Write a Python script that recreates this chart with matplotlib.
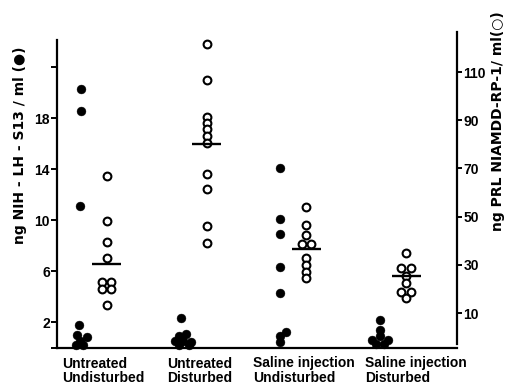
import matplotlib
matplotlib.use("Agg")
import matplotlib.pyplot as plt

# ---- data ----
groups = ["Untreated\nUndisturbed", "Untreated\nDisturbed",
          "Saline injection\nUndisturbed", "Saline injection\nDisturbed"]

# LH, ng NIH-LH-S13/ml (filled circles, left axis)
lh_g1 = [20.3, 18.6, 11.1, 1.77, 0.82, 0.98, 0.5, 0.2, 0.2]
lh_g2 = [2.3, 0.9, 1.06, 0.51, 0.51, 0.43, 0.2, 0.2]
lh_g3 = [14.1, 10.1, 8.9, 6.3, 4.3, 1.2, 0.9, 0.43]
lh_g4 = [2.16, 1.37, 0.9, 0.6, 0.6, 0.3, 0.3]

# PRL, ng NIAMDD-RP-1/ml (open circles, right axis)
prl_g1 = [67.0, 48.2, 39.3, 32.9, 23.0, 23.0, 20.0, 20.0, 13.3]
prl_g2 = [121.6, 106.7, 91.3, 88.8, 86.3, 83.4, 80.5, 67.7, 61.5, 46.1, 39.0]
prl_g3 = [54.1, 46.5, 42.4, 38.5, 38.5, 32.9, 29.9, 27.1, 24.4]
prl_g4 = [34.8, 28.5, 28.5, 25.4, 22.3, 18.8, 18.8, 16.1]
prl_means = [30.3, 80.1, 36.4, 25.4]

left_ticks = [0, 2, 6, 10, 14, 18, 22]
left_ticklabels = ["", "2", "6", "10", "14", "18", ""]
right_ticks = [10, 30, 50, 70, 90, 110]
right_ticklabels = ["10", "30", "50", "70", "90", "110"]

left_label = "ng NIH - LH - S13 / ml (\u25CF)"
right_label = "ng PRL NIAMDD-RP-1/ ml(\u25CB)"

# ---- layout (jitter in pixels, so overlapping dots sit side by side) ----
lh_jit = [[0, 0, -1, -2, 6, -4, -1, -5, 2],
          [0, -2, 5, -6, 2, 10, -2, 8],
          [0, 0, 0, 0, 0, 6, 0, 0],
          [0, 0, 0, -8, 8, -4, 4]]
prl_jit = [[0, 0, 0, 0, -4.5, 4.5, -4.5, 4.5, 0],
           [0] * 11,
           [0, 0, 0, -4.5, 4.5, 0, 0, 0, 0],
           [0, -5, 5, 0, 0, -5, 5, 0]]
label_x_px = [62, 167, 253, 365]

W, H = 509, 387
fig = plt.figure(figsize=(W / 100, H / 100), dpi=100)
ax_l, ax_r, ax_b, ax_t = 57, 457, 347.5, 40
ax = fig.add_axes([ax_l / W, 1 - ax_b / H, (ax_r - ax_l) / W, (ax_b - ax_t) / H])
ax2 = ax.twinx()

FONT = ["Liberation Sans", "DejaVu Sans"]
LABEL_FONT = ["DejaVu Sans"]
plt.rcParams["font.family"] = FONT

px_per_unit = 99.7
ax.set_xlim(-0.371, 3.641)
ax.set_ylim(0, 24.15)
ax2.set_ylim(-4.3, 123.3)

lh_all = [lh_g1, lh_g2, lh_g3, lh_g4]
prl_all = [prl_g1, prl_g2, prl_g3, prl_g4]
off = 0.13
for i in range(4):
    xs = [i - off + d / px_per_unit for d in lh_jit[i]]
    ax.plot(xs, lh_all[i], "o", ms=6.4, mfc="black", mec="black", mew=0.3,
            ls="none", clip_on=False, zorder=3)
    xs2 = [i + off + d / px_per_unit for d in prl_jit[i]]
    ax2.plot(xs2, prl_all[i], "o", ms=5.6, mfc="white", mec="black", mew=1.5,
             ls="none", clip_on=False, zorder=3)
    ax2.plot([i + off - 0.145, i + off + 0.145], [prl_means[i]] * 2,
             color="black", lw=1.7, solid_capstyle="butt", zorder=4)

for a in (ax, ax2):
    a.spines["top"].set_visible(False)
    for s in ("left", "right", "bottom"):
        a.spines[s].set_linewidth(1.6)
ax.spines["right"].set_visible(False)
ax2.spines["left"].set_visible(False)
ax2.spines["bottom"].set_visible(False)
ax2.spines["right"].set_bounds(-3, 126.6)

ax.set_xticks([])
ax.set_yticks(left_ticks)
ax.set_yticklabels(left_ticklabels)
ax.tick_params(axis="y", direction="out", length=4.5, width=1.4, pad=0.5,
               labelsize=10)
ax2.set_yticks(right_ticks)
ax2.set_yticklabels(right_ticklabels)
ax2.tick_params(axis="y", direction="out", length=3.5, width=1.4, pad=1,
                labelsize=10)
for lab in ax.get_yticklabels() + ax2.get_yticklabels():
    lab.set_fontweight("bold")
    lab.set_family(FONT)

for i, g in enumerate(groups):
    fig.text(label_x_px[i] / W, 1 - 356.5 / H, g, ha="left", va="top",
             fontsize=10, fontweight="bold", family=FONT, linespacing=1.05)

fig.text(20 / W, 1 - 145 / H, left_label, rotation=90, ha="center",
         va="center", fontsize=10, fontweight="bold", family=LABEL_FONT)
fig.text(498 / W, 1 - 121 / H, right_label, rotation=90, ha="center",
         va="center", fontsize=10, fontweight="bold", family=LABEL_FONT)

fig.savefig("out.png", dpi=100)
